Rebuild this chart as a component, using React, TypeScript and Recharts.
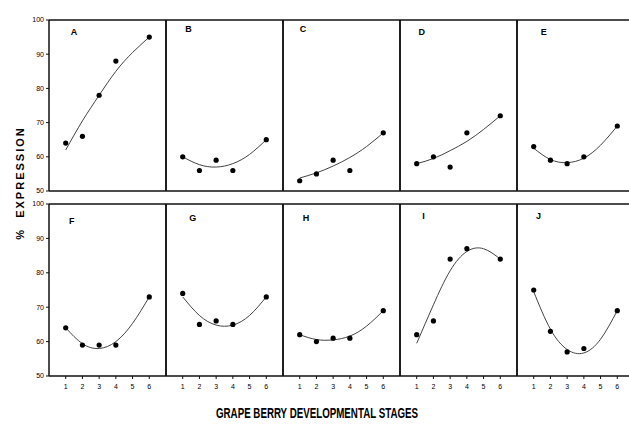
import {
  ComposedChart,
  Line,
  ReferenceDot,
  ReferenceLine,
  Scatter,
  XAxis,
  YAxis,
} from 'recharts'

// stages sampled in the study (no stage 5)
const stages = [1, 2, 3, 4, 6]
const fitStages = [1, 2, 3, 4, 5, 6]
const xTicks = [1, 2, 3, 4, 5, 6]
const yTicks = [50, 60, 70, 80, 90, 100]
const letters = ['A', 'B', 'C', 'D', 'E', 'F', 'G', 'H', 'I', 'J']

// % expression per panel
const pointsA = [64, 66, 78, 88, 95]
const pointsB = [60, 56, 59, 56, 65]
const pointsC = [53, 55, 59, 56, 67]
const pointsD = [58, 60, 57, 67, 72]
const pointsE = [63, 59, 58, 60, 69]
const pointsF = [64, 59, 59, 59, 73]
const pointsG = [74, 65, 66, 65, 73]
const pointsH = [62, 60, 61, 61, 69]
const pointsI = [62, 66, 84, 87, 84]
const pointsJ = [75, 63, 57, 58, 69]

// fitted curves
const fitA = [62, 70.5, 78, 85, 90.5, 95]
const fitB = [60, 57.7, 57, 58, 60.7, 65]
const fitC = [53.8, 55.3, 57.3, 59.8, 63, 67]
const fitD = [58, 59.5, 61.8, 64.5, 68, 72]
const fitE = [62.5, 59.2, 58.3, 59.6, 63.4, 69]
const fitF = [64, 59.4, 58, 60, 65.3, 73]
const fitG = [73, 67.6, 64.8, 64.8, 67.6, 73]
const fitH = [62, 60.6, 60.5, 61.6, 64.5, 69]
const fitI = [59.5, 70.7, 80.6, 86.2, 87, 84]
const fitJ = [74.5, 63.6, 57.7, 56.7, 60.7, 69]

const allPoints = [pointsA, pointsB, pointsC, pointsD, pointsE, pointsF, pointsG, pointsH, pointsI, pointsJ]
const allFits = [fitA, fitB, fitC, fitD, fitE, fitF, fitG, fitH, fitI, fitJ]

// where the panel letter sits, in axis units
const letterX = [1.5, 1.34, 1.2, 1.3, 1.6, 1.36, 1.6, 1.38, 1.4, 1.28]
const letterY = [96.5, 97.3, 97.4, 96.5, 96.5, 95.2, 96, 96, 96.7, 96.6]

const INK = '#111'
const tickFont = 'Liberation Sans, Arial, sans-serif'
const PLOT_LEFT = 49
const PLOT_W = 117
const ROW_TOP = [20, 204]
const PLOT_H = [171, 172]
const PAD = 6

function Dot(props: any) {
  return <circle cx={props.cx} cy={props.cy} r={2.6} fill="#000" />
}

function Panel({ idx }: { idx: number }) {
  const row = idx < 5 ? 0 : 1
  const col = idx % 5
  const first = col === 0
  const yAxisW = first ? PLOT_LEFT : 0
  const xAxisH = row === 1 ? 22 : PAD
  const left = first ? 0 : PLOT_LEFT + PLOT_W * col - PAD
  const width = (first ? PLOT_LEFT : PAD) + PLOT_W + PAD
  const height = PAD + PLOT_H[row] + xAxisH

  const dots = stages.map((x, i) => ({ x, y: allPoints[idx][i] }))
  const curve = fitStages.map((x, i) => ({ x, y: allFits[idx][i] }))

  return (
    <div style={{ position: 'absolute', left, top: ROW_TOP[row] - PAD }}>
      <ComposedChart
        width={width}
        height={height}
        margin={{ top: PAD, right: PAD, bottom: 0, left: first ? 0 : PAD }}
      >
        <XAxis
          type="number"
          dataKey="x"
          domain={[0, 7]}
          ticks={xTicks}
          height={xAxisH}
          tick={row === 1 ? { fontSize: 7, fill: '#000', fontFamily: tickFont } : false}
          tickLine={row === 1 ? { stroke: INK } : false}
          tickSize={3}
          tickMargin={5}
          axisLine={{ stroke: INK, strokeWidth: 1.5 }}
          allowDataOverflow
        />
        <YAxis
          type="number"
          domain={[50, 100]}
          ticks={yTicks}
          width={yAxisW}
          hide={!first}
          tick={{ fontSize: 7, fill: '#000', fontFamily: tickFont }}
          tickLine={{ stroke: INK }}
          tickSize={3}
          tickMargin={2}
          axisLine={{ stroke: INK, strokeWidth: 1.5 }}
          interval={0}
          allowDataOverflow
        />
        <ReferenceLine y={100} stroke={INK} strokeWidth={1.5} />
        <ReferenceLine x={7} stroke={INK} strokeWidth={1.5} />
        {!first && <ReferenceLine x={0} stroke={INK} strokeWidth={1.5} />}
        <Line
          data={curve}
          dataKey="y"
          type="natural"
          stroke="#444"
          strokeWidth={1}
          dot={false}
          activeDot={false}
          isAnimationActive={false}
        />
        <Scatter data={dots} dataKey="y" shape={Dot} isAnimationActive={false} />
        <ReferenceDot
          x={letterX[idx]}
          y={letterY[idx]}
          r={0}
          fill="none"
          stroke="none"
          label={{
            value: letters[idx],
            position: 'center',
            fontSize: 9,
            fontWeight: 'bold',
            fill: '#000',
            fontFamily: tickFont,
          }}
        />
      </ComposedChart>
    </div>
  )
}

export default function App() {
  return (
    <div
      style={{
        position: 'fixed',
        left: 0,
        top: 0,
        width: 629,
        height: 430,
        overflow: 'hidden',
        background: '#fff',
      }}
    >
      {letters.map((l, i) => (
        <Panel key={l} idx={i} />
      ))}
      <div
        style={{
          position: 'absolute',
          left: 20,
          top: 183,
          transform: 'translate(-50%, -50%) rotate(-90deg)',
          whiteSpace: 'nowrap',
          fontFamily: 'Liberation Sans, Arial, sans-serif',
          fontWeight: 'bold',
          fontSize: 11,
          letterSpacing: 2,
          color: '#000',
        }}
      >
        %&nbsp;&nbsp;EXPRESSION
      </div>
      <div
        style={{
          position: 'absolute',
          left: 317,
          top: 412,
          transform: 'translate(-50%, -50%) scaleX(0.65)',
          whiteSpace: 'nowrap',
          fontFamily: 'Liberation Sans, Arial, sans-serif',
          fontWeight: 'bold',
          fontSize: 15,
          color: '#000',
        }}
      >
        GRAPE BERRY DEVELOPMENTAL STAGES
      </div>
    </div>
  )
}
